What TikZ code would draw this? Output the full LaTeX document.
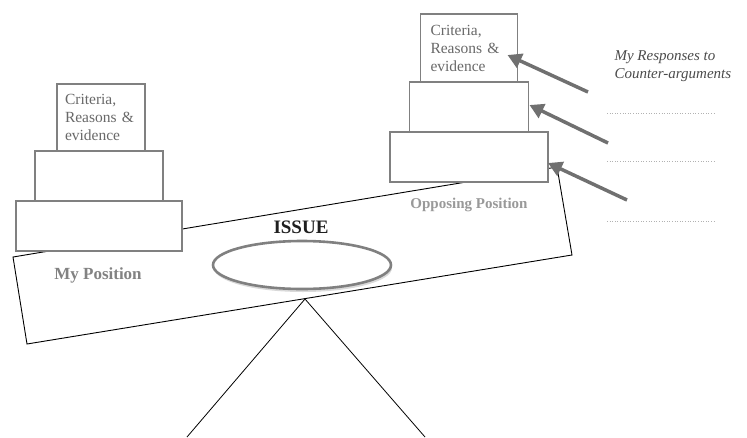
\documentclass[tikz,border=0pt]{standalone}
\usepackage{fontspec}
\setmainfont{Liberation Serif}
\usetikzlibrary{positioning,arrows.meta,shapes.geometric,shadows}

\definecolor{boxgray}{RGB}{128,128,128}
\definecolor{arrowgray}{RGB}{112,112,112}
\definecolor{textgray}{RGB}{105,105,105}
\definecolor{labelgray}{RGB}{130,130,130}
\definecolor{replygray}{RGB}{75,75,75}

\tikzset{
  tier/.style={draw=boxgray, line width=1.6pt, fill=white,
    minimum height=50pt, inner sep=0pt, outer sep=0pt},
  toptier/.style={tier, align=left, inner xsep=8pt, minimum height=67pt,
    font=\fontsize{15.5}{18}\selectfont, text=textgray},
  poslabel/.style={font=\fontsize{16}{18}\selectfont\bfseries, text=labelgray},
  reply/.style={arrowgray, line width=3.5pt,
    -{Triangle[length=14pt,width=15pt]}},
  blank/.style={gray!60, dotted, line width=0.6pt}
}

\begin{document}
\begin{tikzpicture}[x=1pt,y=-1pt]
  \useasboundingbox (0,0) rectangle (747,437);
  % the beam and its fulcrum
  \draw[line width=0.9pt] (13,257) -- (557,167) -- (572,255) -- (27,344) -- cycle;
  \coordinate (apex) at (305,299);
  \coordinate (footL) at (187,437);
  \coordinate (footR) at (425,437);
  \draw[line width=0.8pt] (footL) -- (apex) -- (footR);

  % my side
  \node[tier, minimum width=166pt] (mybase) at (99,226) {};
  \node[tier, minimum width=128pt, above=0pt of mybase] (mymid) {};
  \node[toptier, text width=72pt, above=0pt of mymid, xshift=2pt] (mytop)
    {Criteria,\\Reasons \&\\evidence};
  \node[poslabel, font=\fontsize{17}{18}\selectfont\bfseries] (mylabel) at (98,275) {My Position};

  % opposing side
  \node[tier, minimum width=158pt] (oppbase) at (469,157) {};
  \node[tier, minimum width=119pt, above=0pt of oppbase] (oppmid) {};
  \node[toptier, text width=77pt, inner xsep=10pt, minimum height=68pt,
    above=0pt of oppmid] (opptop) {Criteria,\\Reasons \&\\evidence};
  \node[poslabel, font=\fontsize{15}{18}\selectfont\bfseries, text=gray!80] (opplabel) at (469,205) {Opposing Position};

  % the issue
  \node[ellipse, draw=gray, line width=2.6pt, fill=white,
    minimum width=178pt, minimum height=48pt,
    drop shadow={opacity=0.3, shadow xshift=1pt, shadow yshift=-3pt}] (issue) at (302,265) {};
  \node[font=\fontsize{19}{20}\selectfont\bfseries, text=black!88] (issuelabel) at (301,227) {ISSUE};

  % responses
  \node[anchor=west, align=left, font=\fontsize{15}{18}\selectfont\itshape, text=replygray]
    (replies) at (611,66) {My Responses to\\Counter-arguments};
  \coordinate (r1) at (588,92);
  \coordinate (r2) at (608,143);
  \coordinate (r3) at (627,200);
  \draw[reply] (r1) -- ([shift={(-10,7)}]opptop.east);
  \draw[reply] (r2) -- ([shift={(1,-2)}]oppmid.east);
  \draw[reply] (r3) -- ([shift={(0,6)}]oppbase.east);
  \foreach \y in {113,161,221}
    \draw[blank] (607,\y) -- (716,\y);
\end{tikzpicture}
\end{document}
